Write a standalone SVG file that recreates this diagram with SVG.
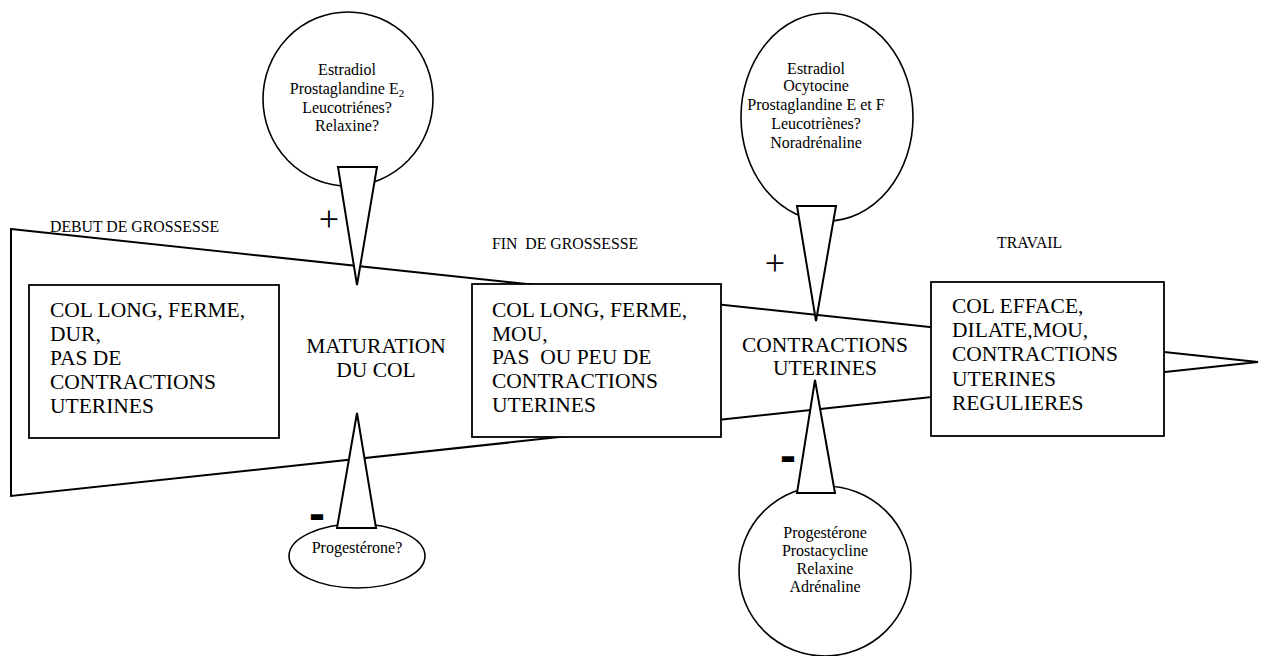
<svg xmlns="http://www.w3.org/2000/svg" width="1261" height="656" viewBox="0 0 1261 656">
<style>
.ln{fill:none;stroke:#000;stroke-width:2}
.box{fill:#fff;stroke:#000;stroke-width:1.8}
.circ{fill:#fff;stroke:#000;stroke-width:1.6}
.tri{fill:#fff;stroke:#000;stroke-width:2;stroke-linejoin:miter}
.big{font-family:"Liberation Serif","Times New Roman",serif;font-size:21.5px;fill:#000}
.mid{font-family:"Liberation Serif","Times New Roman",serif;font-size:21.5px;fill:#000;text-anchor:middle}
.sm{font-family:"Liberation Serif","Times New Roman",serif;font-size:15.8px;fill:#000;white-space:pre}
.hor{font-family:"Liberation Serif","Times New Roman",serif;font-size:16px;fill:#000;text-anchor:middle}
.plus{font-family:"Liberation Serif","Times New Roman",serif;font-size:36px;fill:#000;text-anchor:middle}
.minus{font-family:"Liberation Sans",Arial,sans-serif;font-size:48px;font-weight:bold;fill:#000;text-anchor:middle}
</style>
<rect x="0" y="0" width="1261" height="656" fill="#fff"/>
<g id="funnel">
<polygon class="ln" points="11,229 1258,362 11,496"/>
</g>
<g id="phase-labels">
<text class="sm" x="50" y="232">DEBUT DE GROSSESSE</text>
<text class="sm" x="492" y="249" xml:space="preserve">FIN  DE GROSSESSE</text>
<text class="sm" x="997" y="248">TRAVAIL</text>
</g>
<g id="box-debut">
<rect class="box" x="29" y="285" width="250" height="153"/>
<text class="big" x="50" y="317">COL LONG, FERME,</text>
<text class="big" x="50" y="341">DUR,</text>
<text class="big" x="50" y="365">PAS DE</text>
<text class="big" x="50" y="389">CONTRACTIONS</text>
<text class="big" x="50" y="413">UTERINES</text>
</g>
<g id="box-fin">
<rect class="box" x="472" y="284" width="249" height="153"/>
<text class="big" x="492" y="317">COL LONG, FERME,</text>
<text class="big" x="492" y="341">MOU,</text>
<text class="big" x="492" y="364" xml:space="preserve">PAS  OU PEU DE</text>
<text class="big" x="492" y="388">CONTRACTIONS</text>
<text class="big" x="492" y="412">UTERINES</text>
</g>
<g id="box-travail">
<rect class="box" x="931" y="282" width="233" height="154"/>
<text class="big" x="952" y="313">COL EFFACE,</text>
<text class="big" x="952" y="337">DILATE,MOU,</text>
<text class="big" x="952" y="361">CONTRACTIONS</text>
<text class="big" x="952" y="386">UTERINES</text>
<text class="big" x="952" y="410">REGULIERES</text>
</g>
<g id="label-maturation">
<text class="mid" x="376" y="353">MATURATION</text>
<text class="mid" x="376" y="377">DU COL</text>
</g>
<g id="label-contractions">
<text class="mid" x="825" y="352">CONTRACTIONS</text>
<text class="mid" x="825" y="375">UTERINES</text>
</g>
<g id="stimulants-maturation">
<ellipse class="circ" cx="348" cy="99" rx="85" ry="87"/>
<text class="hor" x="347" y="75">Estradiol</text>
<text class="hor" x="347" y="94">Prostaglandine E<tspan font-size="11" dy="3">2</tspan></text>
<text class="hor" x="347" y="113">Leucotriénes?</text>
<text class="hor" x="347" y="131">Relaxine?</text>
</g>
<g id="stimulants-contractions">
<ellipse class="circ" cx="827" cy="117" rx="86" ry="104"/>
<text class="hor" x="816" y="74">Estradiol</text>
<text class="hor" x="816" y="91">Ocytocine</text>
<text class="hor" x="816" y="110">Prostaglandine E et F</text>
<text class="hor" x="816" y="129">Leucotriènes?</text>
<text class="hor" x="816" y="148">Noradrénaline</text>
</g>
<g id="inhibiteurs-maturation">
<ellipse class="circ" cx="357" cy="556" rx="68" ry="32"/>
<text class="hor" x="357" y="553">Progestérone?</text>
</g>
<g id="inhibiteurs-contractions">
<ellipse class="circ" cx="825" cy="571" rx="86" ry="85"/>
<text class="hor" x="825" y="538">Progestérone</text>
<text class="hor" x="825" y="556">Prostacycline</text>
<text class="hor" x="825" y="574">Relaxine</text>
<text class="hor" x="825" y="592">Adrénaline</text>
</g>
<g id="connectors">
<polygon class="tri" points="338,167 377,167 357,285"/>
<polygon class="tri" points="337,528 376,528 357,413"/>
<polygon class="tri" points="797,206 836,206 816,321"/>
<polygon class="tri" points="797,493 835,493 815,380"/>
</g>
<g id="signs">
<text class="plus" x="329" y="231">+</text>
<text class="plus" x="775" y="275">+</text>
<text class="minus" x="317" y="530">-</text>
<text class="minus" x="788" y="472">-</text>
</g>
</svg>
